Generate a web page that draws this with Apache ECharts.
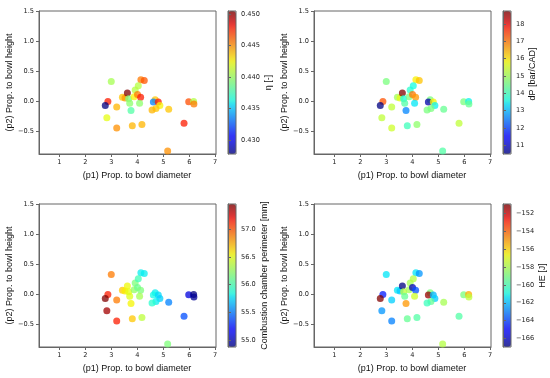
<!DOCTYPE html>
<html>
<head>
<meta charset="utf-8">
<script src="https://cdn.jsdelivr.net/npm/echarts@6/dist/echarts.min.js"></script>
<style>html,body{margin:0;padding:0;background:#fff;}#c{width:550px;height:378px;}</style>
</head>
<body>
<div id="c"></div>
<script>
// ---- data ----
const p1 = [3.00,4.14,4.27,2.87,2.77,3.21,2.83,3.21,3.81,4.18,3.76,3.43,3.53,3.62,3.67,3.71,3.92,4.04,3.88,4.01,4.13,4.09,4.69,4.62,4.81,4.87,4.72,4.57,5.21,5.17,5.80,5.98,6.17,6.18];
const p2 = [0.33,0.36,0.35,0.00,-0.066,-0.09,-0.27,-0.44,-0.40,-0.38,-0.15,0.07,0.06,0.14,0.044,-0.03,0.19,0.26,0.08,0.115,0.07,-0.03,0.03,-0.01,-0.01,-0.066,-0.115,-0.14,-0.13,-0.82,-0.36,-0.005,0.0,-0.04];
const eta = [0.4403,0.4455,0.4464,0.4478,0.4278,0.4441,0.4421,0.4450,0.4441,0.4441,0.4380,0.4437,0.4448,0.4505,0.4392,0.4396,0.4407,0.4407,0.4426,0.4455,0.4478,0.4396,0.4437,0.4335,0.4478,0.4426,0.4437,0.4441,0.4437,0.4450,0.4478,0.4466,0.4407,0.4455];
const dP = [14.6,15.9,16.3,17.3,10.5,15.3,15.3,15.45,14.0,14.8,12.6,15.0,15.7,18.75,13.6,14.2,13.8,13.6,14.6,17.0,16.7,13.4,14.6,10.8,15.9,13.5,14.6,14.6,14.4,14.2,15.3,14.6,13.5,14.4];
const perim = [56.89,55.80,55.80,57.15,57.46,56.89,57.38,57.15,56.68,56.37,56.55,56.68,56.58,56.53,56.50,56.48,56.17,55.98,56.24,56.11,56.17,56.29,55.80,55.83,55.75,55.72,55.80,55.91,55.52,56.17,55.39,55.08,54.87,54.92];
const HE = [-161.35,-161.35,-162.6,-164.55,-150.95,-161.7,-162.6,-162.95,-159.4,-159.75,-154.95,-161.35,-161.8,-166.95,-157.7,-159.4,-158.15,-157.85,-158.15,-166.15,-163.75,-157.35,-158.95,-151.3,-162.15,-161.7,-159.4,-160.2,-158.15,-157.85,-159.75,-158.95,-155.3,-157.7];

const xTicks = [1,2,3,4,5,6,7];
const yTicks = [-0.5,0,0.5,1.0,1.5];
const etaTicks = [0.430,0.435,0.440,0.445,0.450];
const dPTicks = [11,12,13,14,15,16,17,18];
const perimTicks = [55.0,55.5,56.0,56.5,57.0];
const heTicks = [-166,-164,-162,-160,-158,-156,-154,-152];

const xName = '(p1) Prop. to bowl diameter';
const yName = '(p2) Prop. to bowl height';
const cbNames = ['η [-]','dP [bar/CAD]','Combustion chamber perimeter [mm]','HE [J]'];

// ---- jet colormap ----
function interp(t, pts){
  for(let i=1;i<pts.length;i++){
    if(t<=pts[i][0]){const a=pts[i-1],b=pts[i];return a[1]+(b[1]-a[1])*(t-a[0])/(b[0]-a[0]);}
  }
  return pts[pts.length-1][1];
}
function jet(t){
  const r=interp(t,[[0,0],[0.35,0],[0.66,1],[0.89,1],[1,0.5]]);
  const g=interp(t,[[0,0],[0.125,0],[0.375,1],[0.64,1],[0.91,0],[1,0]]);
  const b=interp(t,[[0,0.5],[0.11,1],[0.34,1],[0.65,0],[1,0]]);
  return 'rgba('+Math.round(r*255)+','+Math.round(g*255)+','+Math.round(b*255)+',0.75)';
}
const jetColors=[];for(let i=0;i<=40;i++)jetColors.push(jet(i/40));

const minus = s => String(s).replace('-','−');
const panels = [
  {vals:eta, ticks:etaTicks, fmt:v=>v.toFixed(3), min:0.4278, max:0.4505, left:39, top:11, cbLeft:228, nameGap:27, namePad:0},
  {vals:dP, ticks:dPTicks, fmt:v=>String(Math.round(v)), min:10.5, max:18.75, left:314, top:11, cbLeft:503, nameGap:14, namePad:17},
  {vals:perim, ticks:perimTicks, fmt:v=>v.toFixed(1), min:54.87, max:57.46, left:39, top:204, cbLeft:228, nameGap:21, namePad:0},
  {vals:HE, ticks:heTicks, fmt:v=>minus(Math.round(v)), min:-166.95, max:-150.95, left:314, top:204, cbLeft:503, nameGap:24, namePad:0}
];

const W=177, H=143, CBW=8;
const axisCol='#666', txtCol='#222';
const grid=[], xAxis=[], yAxis=[], series=[], visualMap=[];
panels.forEach((p,i)=>{
  grid.push({left:p.left, top:p.top, width:W, height:H, show:true, borderColor:axisCol, borderWidth:1, backgroundColor:'transparent'});
  xAxis.push({gridIndex:i, type:'value', min:0.22, max:7.03,
    axisLine:{show:true,onZero:false,lineStyle:{color:axisCol,width:1}},
    axisTick:{show:true,customValues:xTicks,length:3,lineStyle:{color:axisCol}},
    axisLabel:{customValues:xTicks,fontSize:6.6,fontFamily:'DejaVu Sans',color:txtCol,margin:5},
    splitLine:{show:false},
    name:xName, nameLocation:'middle', nameGap:17,
    nameTextStyle:{fontSize:9,fontFamily:'Liberation Sans',color:'#111',padding:[0,0,0,19]}});
  yAxis.push({gridIndex:i, type:'value', min:-0.87, max:1.5,
    axisLine:{show:true,onZero:false,lineStyle:{color:axisCol,width:1}},
    axisTick:{show:true,customValues:yTicks,length:3,lineStyle:{color:axisCol}},
    axisLabel:{customValues:yTicks,fontSize:6.6,fontFamily:'DejaVu Sans',color:txtCol,margin:5,
      formatter:v=>(v<0?'−':'')+Math.abs(v).toFixed(1)},
    splitLine:{show:false},
    name:yName, nameLocation:'middle', nameGap:20, nameRotate:90,
    nameTextStyle:{fontSize:9,fontFamily:'Liberation Sans',color:'#111'}});
  series.push({type:'scatter', xAxisIndex:i, yAxisIndex:i, symbolSize:7,
    data:p1.map((x,k)=>[x,p2[k],p.vals[k]]), itemStyle:{opacity:1}});
  visualMap.push({type:'continuous', seriesIndex:i, dimension:2, min:p.min, max:p.max,
    inRange:{color:jetColors}, calculable:false, hoverLink:false,
    itemWidth:CBW, itemHeight:H, left:p.cbLeft, top:p.top, padding:0, orient:'vertical'});
});
panels.forEach((p,i)=>{
  const gi = 4+i;
  grid.push({left:p.cbLeft, top:p.top, width:CBW, height:H, show:true, borderColor:axisCol, borderWidth:1, backgroundColor:'transparent', z:10});
  xAxis.push({gridIndex:gi, type:'value', show:false, min:0, max:1});
  yAxis.push({gridIndex:gi, type:'value', position:'right', min:p.min, max:p.max, z:10,
    axisLine:{show:true,lineStyle:{color:axisCol,width:1}},
    axisTick:{show:true,customValues:p.ticks,length:3,lineStyle:{color:axisCol}},
    axisLabel:{customValues:p.ticks,fontSize:6.6,fontFamily:'DejaVu Sans',color:txtCol,margin:5,formatter:p.fmt},
    splitLine:{show:false},
    name:cbNames[i], nameLocation:'middle', nameGap:p.nameGap, nameRotate:90,
    nameTextStyle:{fontSize:9,fontFamily:'Liberation Sans',color:'#111',padding:[0,0,0,p.namePad]}});
});

const chart = echarts.init(document.getElementById('c'), null, {renderer:'canvas'});
chart.setOption({backgroundColor:'#fff', animation:false, grid, xAxis, yAxis, series, visualMap});
</script>
</body>
</html>
